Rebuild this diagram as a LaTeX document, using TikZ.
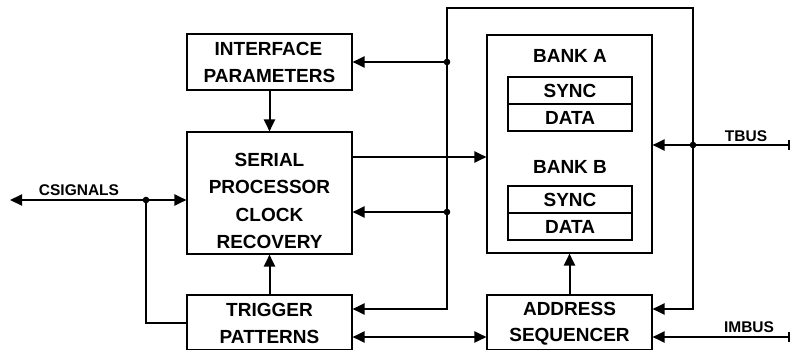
\documentclass[tikz,border=0pt]{standalone}
\usepackage{fontspec}
\setmainfont{Liberation Sans}
\usetikzlibrary{arrows.meta}
\begin{document}
\begin{tikzpicture}[x=1pt,y=-1pt,
  box/.style={draw, line width=1.1pt, minimum width=165pt, inner sep=0pt},
  inbox/.style={draw, line width=1.1pt, minimum width=124pt, minimum height=27pt, inner sep=0pt, font=\fontsize{19}{19}\selectfont\bfseries},
  txt/.style={anchor=base, inner sep=0pt, font=\fontsize{19}{19}\selectfont\bfseries},
  lbl/.style={anchor=base, inner sep=0pt, font=\fontsize{15.5}{15.5}\selectfont\bfseries},
  conn/.style={line width=2pt},
  tip/.tip={Triangle[length=12pt,width=11pt]},
  bar/.tip={Bar[width=10pt]},
  dot/.style={fill=black}
]
\useasboundingbox (0,0) rectangle (792,350);
% boxes
\node[box, minimum height=56pt] (interface) at (269.5,62) {};
\node[box, minimum height=122pt] (serial) at (269.5,193) {};
\node[box, minimum height=54.5pt] (trigger) at (269.5,322.25) {};
\node[box, minimum height=218pt] (bank) at (569.5,144) {};
\node[box, minimum height=54.5pt] (address) at (569.5,322.25) {};
\node[inbox] (synca) at (570,90.5) {SYNC};
\node[inbox] (dataa) at (570,117.5) {DATA};
\node[inbox] (syncb) at (570,199.5) {SYNC};
\node[inbox] (datab) at (570,226.5) {DATA};
% texts
\node[txt] (t1) at (268.5,55.5) {INTERFACE};
\node[txt] (t2) at (269.5,82.5) {PARAMETERS};
\node[txt] (t3) at (269.5,166) {SERIAL};
\node[txt] (t4) at (269.5,193.5) {PROCESSOR};
\node[txt] (t5) at (269.5,221) {CLOCK};
\node[txt] (t6) at (269.5,248.5) {RECOVERY};
\node[txt] (t7) at (269.5,316) {TRIGGER};
\node[txt] (t8) at (269.5,343) {PATTERNS};
\node[txt] (t9) at (570,63) {BANK A};
\node[txt] (t10) at (570,173) {BANK B};
\node[txt] (t11) at (569.5,315.5) {ADDRESS};
\node[txt] (t12) at (569.5,341) {SEQUENCER};
\node[lbl] (l1) at (79,195) {CSIGNALS};
\node[lbl] (l2) at (746,142) {TBUS};
\node[lbl] (l3) at (749,332) {IMBUS};
% coordinates
\coordinate (j1) at (447,62);
\coordinate (j2) at (447,212);
\coordinate (j3) at (693,145);
\coordinate (j4) at (146,200);
\coordinate (j5) at (447,309);
\coordinate (j6) at (693,309);
\coordinate (lt) at (447,8);
\coordinate (rt) at (693,8);
\coordinate (tbusend) at (790,145);
\coordinate (imbusend) at (790,337);
\coordinate (csigend) at (10,200);
\coordinate (c2) at (146,323);
\coordinate (s1) at (420,157);
% connectors
\draw[conn,-tip] (interface) -- (serial);
\draw[conn,-tip] (trigger) -- (serial);
\draw[conn,-tip] (address) -- (bank);
\draw[conn,-tip] (serial.east |- s1) -- (bank.west |- s1);
\draw[conn,tip-tip] (trigger.east |- j5) -- (j5) -- (lt) -- (rt) -- (j6) -- (address.east |- j6);
\draw[conn,-tip] (j1) -- (interface.east |- j1);
\draw[conn,-tip] (j2) -- (serial.east |- j2);
\draw[conn,bar-tip] (tbusend) -- (bank.east |- tbusend);
\draw[conn,bar-tip] (imbusend) -- (address.east |- imbusend);
\draw[conn,tip-tip] (trigger.east |- imbusend) -- (address.west |- imbusend);
\draw[conn,tip-tip] (csigend) -- (serial.west |- csigend);
\draw[conn] (j4) -- (c2) -- (trigger.west |- c2);
% junction dots
\fill[dot] (j1) circle (3.3pt);
\fill[dot] (j2) circle (3.3pt);
\fill[dot] (j3) circle (3.3pt);
\fill[dot] (j4) circle (3.3pt);
\end{tikzpicture}
\end{document}
